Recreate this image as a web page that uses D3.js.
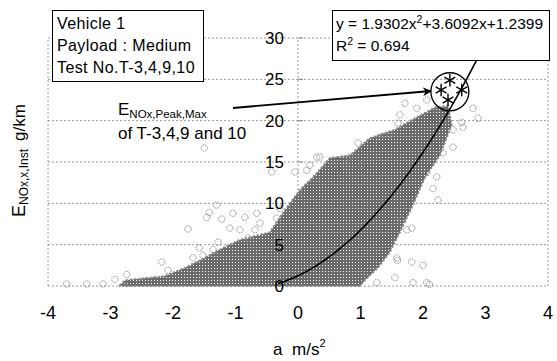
<!DOCTYPE html>
<html>
<head>
<meta charset="utf-8">
<script src="https://cdn.jsdelivr.net/npm/d3@7"></script>
<style>
  body { margin: 0; background: #fff; }
  svg { font-family: "Liberation Sans", Arial, sans-serif; }
</style>
</head>
<body>
<div id="chart"></div>
<script>
// Set dimensions and margins
const width = 557;
const height = 361;
const margin = {left: 48, right: 9, top: 38, bottom: 75};

// ticks
const xTicks = [-4, -3, -2, -1, 0, 1, 2, 3, 4];
const yTicks = [0, 5, 10, 15, 20, 25, 30];

// outline of the dense cloud of points
const cloudX = [-2.85, -2.77, -2.13, -1.81, -1.57, -1.33, -0.93, -0.45, -0.21, 0.03, 0.27, 0.51, 0.83, 1.15, 1.55, 1.87, 2.19, 2.40,
                2.46, 2.27, 2.03, 1.84, 1.63, 1.47, 1.28, 1.07, 0.99, -2.85];
const cloudY = [0.1, 0.7, 1.2, 2.2, 3.1, 4.1, 5.6, 6.5, 9.2, 11.6, 13.4, 15.5, 15.8, 17.9, 18.9, 20.3, 21.6, 21.8,
                19.5, 15.8, 13.1, 9.8, 6.5, 4.1, 2.2, 0.7, 0, 0];

// scattered single points outside the cloud
const outX = [-3.70, -3.38, -3.12, -2.93, -2.74, -2.18, -2.08, -1.76, -1.58, -1.68, -1.46, -1.42, -1.30, -1.22, -1.04, -0.85,
              -0.66, -0.61, -1.28, -1.36, -1.09, -0.93, -0.80, -1.52, -0.69, -1.50, -0.05, 0.14, 0.30, -0.34, -0.29, -0.08, -0.42,
              1.71, 1.90, 2.06, 2.22, 1.63, 1.60, 2.80, 2.88, 2.62, 2.48, 2.48, 2.32, 0.96, 1.31, 1.47, 0.35, 0.56, 0.75, 0.83,
              1.02, 0.19, 2.64, 2.16, 2.24, 2.06, 2.22,
              1.74, 1.82, 1.58, 1.82, 2.00, 1.55, 1.84, 2.06, 1.26, 1.59, 1.66, 2.10];
const outY = [0.25, 0.25, 0.25, 0.8, 1.4, 2.9, 1.9, 6.9, 4.6, 3.4, 8.3, 8.9, 9.8, 8.1, 8.8, 8.3,
              8.8, 7.6, 5.3, 4.4, 7.0, 6.8, 5.8, 3.7, 6.8, 16.7, 13.8, 14.0, 15.6, 8.2, 9.4, 9.8, 13.8,
              22.1, 21.5, 22.5, 21.3, 20.7, 19.7, 21.5, 20.3, 19.8, 18.9, 16.8, 16.1, 17.3, 18.0, 18.3, 15.6, 14.6, 14.6, 15.6,
              14.6, 14.6, 19.2, 11.8, 10.4, 13.7, 13.2,
              6.8, 7.0, 3.4, 2.9, 2.5, 1.0, 0.4, 0.4, 0.4, 3.1, 8.0, 0.2];

// peak values of T-3,4,9,10
const peakX = [2.43, 2.29, 2.62, 2.40];
const peakY = [24.9, 23.7, 23.7, 22.5];

// trend line y = a x^2 + b x + c, drawn over this x range
const fitCoef = [1.9302, 3.6092, 1.2399];
const fitRange = [-0.32, 3.0];

const svg = d3.select("#chart")
  .append("svg")
  .attr("width", width)
  .attr("height", height);

const defs = svg.append("defs");
const pat = defs.append("pattern")
  .attr("id", "dense")
  .attr("patternUnits", "userSpaceOnUse")
  .attr("width", 3).attr("height", 3);
pat.append("rect").attr("width", 3).attr("height", 3).attr("fill", "#6a6a6a");
pat.append("rect").attr("x", 1).attr("y", 1).attr("width", 1).attr("height", 1).attr("fill", "#fff");

defs.append("marker")
  .attr("id", "arrow")
  .attr("viewBox", "0 0 10 10")
  .attr("refX", 9).attr("refY", 5)
  .attr("markerWidth", 5).attr("markerHeight", 5)
  .attr("orient", "auto")
  .append("path")
  .attr("d", "M0,0 L10,5 L0,10 L3,5 Z")
  .attr("fill", "#000");

// scales
const xScale = d3.scaleLinear().domain([-4, 4]).range([margin.left, width - margin.right]);
const yScale = d3.scaleLinear().domain([0, 30]).range([height - margin.bottom, margin.top]);

// grid lines
svg.append("g")
  .selectAll("line")
  .data(yTicks)
  .join("line")
    .attr("x1", xScale(-4)).attr("x2", xScale(4))
    .attr("y1", d => yScale(d)).attr("y2", d => yScale(d))
    .attr("stroke", "#9a9a9a")
    .attr("stroke-dasharray", "2,2");

svg.append("g")
  .selectAll("line")
  .data([-4, 0, 4])
  .join("line")
    .attr("x1", d => xScale(d)).attr("x2", d => xScale(d))
    .attr("y1", yScale(0)).attr("y2", yScale(30))
    .attr("stroke", "#9a9a9a")
    .attr("stroke-dasharray", "2,2");

// small ticks on the value axis
svg.append("g")
  .selectAll("line")
  .data(yTicks)
  .join("line")
    .attr("x1", xScale(0)).attr("x2", xScale(0) + 5)
    .attr("y1", d => yScale(d)).attr("y2", d => yScale(d))
    .attr("stroke", "#888");

// dense cloud
const cloud = cloudX.map((x, i) => [x, cloudY[i]]);
svg.append("path")
  .datum(cloud)
  .attr("d", d3.line().x(d => xScale(d[0])).y(d => yScale(d[1])).curve(d3.curveLinearClosed))
  .attr("fill", "url(#dense)")
  .attr("stroke", "#8a8a8a")
  .attr("stroke-width", 2)
  .attr("stroke-dasharray", "2,2");

// single points
svg.append("g")
  .selectAll("circle")
  .data(outX.map((x, i) => [x, outY[i]]))
  .join("circle")
    .attr("cx", d => xScale(d[0]))
    .attr("cy", d => yScale(d[1]))
    .attr("r", 3.2)
    .attr("fill", "none")
    .attr("stroke", "#8a8a8a")
    .attr("stroke-dasharray", "1.5,1");

// axis labels
svg.append("g")
  .selectAll("text")
  .data(xTicks)
  .join("text")
    .attr("x", d => xScale(d))
    .attr("y", 319)
    .attr("text-anchor", "middle")
    .attr("font-size", "18px")
    .text(d => d);

svg.append("g")
  .selectAll("text")
  .data(yTicks)
  .join("text")
    .attr("x", xScale(0) - 14)
    .attr("y", d => yScale(d))
    .attr("dy", "0.36em")
    .attr("text-anchor", "end")
    .attr("font-size", "17px")
    .text(d => d);

// trend line
const fitPts = d3.range(fitRange[0], fitRange[1] + 0.001, 0.02)
  .map(x => [x, fitCoef[0] * x * x + fitCoef[1] * x + fitCoef[2]]);
svg.append("path")
  .datum(fitPts)
  .attr("d", d3.line().x(d => xScale(d[0])).y(d => yScale(d[1])))
  .attr("fill", "none")
  .attr("stroke", "#000")
  .attr("stroke-width", 1.6);

// peak markers and circle
svg.append("g")
  .selectAll("path")
  .data(peakX.map((x, i) => [x, peakY[i]]))
  .join("path")
    .attr("transform", d => `translate(${xScale(d[0])},${yScale(d[1])})`)
    .attr("d", d3.symbol(d3.symbolAsterisk, 110))
    .attr("fill", "none")
    .attr("stroke", "#000")
    .attr("stroke-width", 1.4);

svg.append("circle")
  .attr("cx", xScale(2.43))
  .attr("cy", yScale(23.5))
  .attr("r", 19)
  .attr("fill", "none")
  .attr("stroke", "#000")
  .attr("stroke-width", 1.3);

// arrow
svg.append("line")
  .attr("x1", 233).attr("y1", 108)
  .attr("x2", 431).attr("y2", 91)
  .attr("stroke", "#000")
  .attr("stroke-width", 1.8)
  .attr("marker-end", "url(#arrow)");

// annotation text
const ann = svg.append("text").attr("x", 118).attr("y", 115).attr("font-size", "17px");
ann.append("tspan").text("E");
ann.append("tspan").attr("font-size", "11.5px").attr("dy", 3).text("NOx,Peak,Max");
svg.append("text").attr("x", 118).attr("y", 139).attr("font-size", "17px").text("of T-3,4,9 and 10");

// info box
svg.append("rect")
  .attr("x", 52.5).attr("y", 10.5).attr("width", 151).attr("height", 71)
  .attr("fill", "#fff").attr("stroke", "#000");
["Vehicle 1", "Payload : Medium", "Test No.T-3,4,9,10"].forEach((t, i) => {
  svg.append("text")
    .attr("x", 57).attr("y", 29 + i * 22)
    .attr("font-size", "16px")
    .attr("letter-spacing", "0.4px")
    .text(t);
});

// equation box
svg.append("rect")
  .attr("x", 332.5).attr("y", 10.5).attr("width", 217).attr("height", 50)
  .attr("fill", "#fff").attr("stroke", "#000");
const eq = svg.append("text").attr("x", 336).attr("y", 29).attr("font-size", "15.5px");
eq.append("tspan").text("y = 1.9302x");
eq.append("tspan").attr("font-size", "10.5px").attr("dy", -6).text("2");
eq.append("tspan").attr("dy", 6).text("+3.6092x+1.2399");
const r2 = svg.append("text").attr("x", 336).attr("y", 51).attr("font-size", "15.5px");
r2.append("tspan").text("R");
r2.append("tspan").attr("font-size", "10.5px").attr("dy", -6).text("2");
r2.append("tspan").attr("dy", 6).text(" = 0.694");

// axis titles
const xt = svg.append("text").attr("y", 355).attr("font-size", "17px");
xt.append("tspan").attr("x", 273).text("a");
xt.append("tspan").attr("x", 292).text("m/s");
xt.append("tspan").attr("font-size", "11px").attr("dy", -8).text("2");

const yt = svg.append("text")
  .attr("transform", "translate(25,217) rotate(-90)")
  .attr("font-size", "18px");
yt.append("tspan").text("E");
yt.append("tspan").attr("font-size", "12px").attr("dy", 3).text("NOx,x,Inst");
yt.append("tspan").attr("dy", -3).attr("dx", 8).attr("font-size", "17px").text("g/km");
</script>
</body>
</html>
